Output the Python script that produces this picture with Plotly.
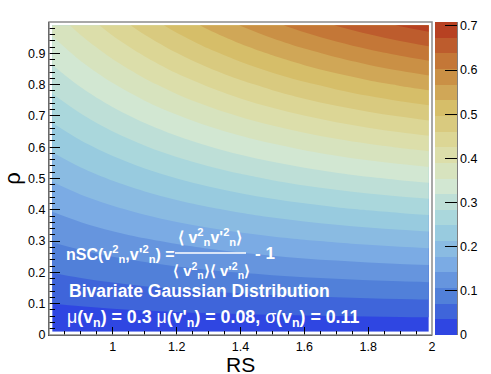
import numpy as np
import plotly.graph_objects as go

# RS (x) and rho (y) grid of the histogram, nSC values
rs = [0.81, 0.9, 1.0, 1.1, 1.2, 1.3, 1.4, 1.5, 1.6, 1.7, 1.8, 1.9, 1.99]
rho = [0.01, 0.1, 0.2, 0.3, 0.4, 0.5, 0.6, 0.7, 0.8, 0.9, 0.99]
nsc = [
    [0.0035, 0.0038, 0.0042, 0.0045, 0.0048, 0.0050, 0.0053, 0.0055, 0.0056, 0.0058, 0.0059, 0.0061, 0.0062],
    [0.0355, 0.0387, 0.0421, 0.0452, 0.0480, 0.0507, 0.0530, 0.0551, 0.0570, 0.0587, 0.0602, 0.0614, 0.0624],
    [0.0713, 0.0779, 0.0847, 0.0910, 0.0969, 0.1022, 0.1070, 0.1114, 0.1153, 0.1187, 0.1218, 0.1244, 0.1264],
    [0.1076, 0.1175, 0.1279, 0.1375, 0.1464, 0.1546, 0.1620, 0.1687, 0.1747, 0.1801, 0.1848, 0.1889, 0.1921],
    [0.1442, 0.1576, 0.1716, 0.1847, 0.1968, 0.2079, 0.2180, 0.2272, 0.2354, 0.2428, 0.2493, 0.2549, 0.2594],
    [0.1812, 0.1982, 0.2160, 0.2325, 0.2479, 0.2621, 0.2750, 0.2867, 0.2973, 0.3068, 0.3152, 0.3226, 0.3284],
    [0.2186, 0.2392, 0.2608, 0.2810, 0.2998, 0.3171, 0.3329, 0.3474, 0.3604, 0.3721, 0.3825, 0.3917, 0.3990],
    [0.2563, 0.2807, 0.3063, 0.3302, 0.3524, 0.3730, 0.3919, 0.4091, 0.4247, 0.4388, 0.4513, 0.4624, 0.4712],
    [0.2945, 0.3227, 0.3523, 0.3800, 0.4059, 0.4298, 0.4518, 0.4720, 0.4903, 0.5067, 0.5215, 0.5347, 0.5451],
    [0.3331, 0.3651, 0.3988, 0.4305, 0.4601, 0.4875, 0.5128, 0.5359, 0.5570, 0.5761, 0.5932, 0.6085, 0.6207],
    [0.3681, 0.4037, 0.4412, 0.4765, 0.5095, 0.5402, 0.5684, 0.5944, 0.6181, 0.6396, 0.6589, 0.6762, 0.6901],
]
z_top = 0.709  # top of the palette axis

x_ticks = [1, 1.2, 1.4, 1.6, 1.8, 2]
x_labels = ["1", "1.2", "1.4", "1.6", "1.8", "2"]
y_ticks = [0, 0.1, 0.2, 0.3, 0.4, 0.5, 0.6, 0.7, 0.8, 0.9]
y_labels = ["0", "0.1", "0.2", "0.3", "0.4", "0.5", "0.6", "0.7", "0.8", "0.9"]
z_ticks = [0, 0.1, 0.2, 0.3, 0.4, 0.5, 0.6, 0.7]
z_labels = ["0", "0.1", "0.2", "0.3", "0.4", "0.5", "0.6", "0.7"]

# ROOT kLightTemperature palette, one colour per contour band (20 bands)
pal_stops = [0.0, 0.125, 0.25, 0.375, 0.5, 0.625, 0.75, 0.875, 1.0]
pal_r = [31, 71, 123, 160, 210, 222, 214, 199, 183]
pal_g = [40, 117, 171, 211, 231, 220, 190, 132, 65]
pal_b = [234, 214, 228, 222, 210, 160, 105, 60, 34]
nband = 20
band_cols = []
for i in range(nband):
    p = (i + 0.99) / nband
    r, g, b = (int(round(np.interp(p, pal_stops, c))) for c in (pal_r, pal_g, pal_b))
    band_cols.append(f"rgb({r},{g},{b})")

contour_scale = [[i / (nband - 1), c] for i, c in enumerate(band_cols)]
bar_scale = []
for i, c in enumerate(band_cols):
    bar_scale += [[i / nband, c], [(i + 1) / nband, c]]

step = z_top / nband
FONT = "Liberation Sans, Arial, sans-serif"

contour = go.Contour(
    x=rs, y=rho, z=nsc,
    colorscale=contour_scale, showscale=False,
    autocontour=False,
    contours=dict(start=step, end=step * (nband - 1) + step / 10, size=step,
                  coloring="fill", showlines=False),
    line=dict(width=0),
)

# palette axis (discrete, 0 .. z_top)
palette = go.Scatter(
    x=[None], y=[None], mode="markers", hoverinfo="skip",
    marker=dict(
        color=[0], cmin=0, cmax=z_top, colorscale=bar_scale, showscale=True,
        colorbar=dict(
            x=1.008, xanchor="left", xpad=0, ypad=0,
            y=0.5, yanchor="middle", len=1.0, lenmode="fraction",
            thickness=22, outlinewidth=0,
            tickmode="array", tickvals=z_ticks, ticktext=z_labels,
            ticks="inside", ticklen=12, tickwidth=1, tickcolor="black",
            tickfont=dict(family=FONT, size=12.5, color="black"),
        ),
    ),
)

fig = go.Figure(data=[contour, palette])

# px -> data helpers for the text block (plot area 383 x 313 px)
def dx(px):
    return 0.8 + (px - 49) * 1.2 / 383

def dy(py):
    return (335 - py) / 313

white = dict(family=FONT, size=17, color="white")
frac = dict(family=FONT, size=16, color="white")
ann = [
    dict(x=dx(64), y=dy(254), xanchor="left", yanchor="middle",
         text="<b>nSC(v<sup>2</sup><sub>n</sub>,v'<sup>2</sup><sub>n</sub>) =</b>",
         font=dict(family=FONT, size=16, color="white")),
    dict(x=dx(210), y=dy(237), xanchor="center", yanchor="middle",
         text="<b>⟨ v<sup>2</sup><sub>n</sub>v'<sup>2</sup><sub>n</sub>⟩</b>", font=frac),
    dict(x=dx(211), y=dy(270), xanchor="center", yanchor="middle",
         text="<b>⟨ v<sup>2</sup><sub>n</sub>⟩⟨ v'<sup>2</sup><sub>n</sub>⟩</b>",
         font=dict(family=FONT, size=15, color="white")),
    dict(x=dx(253), y=dy(253), xanchor="left", yanchor="middle",
         text="<b>- 1</b>", font=white),
    dict(x=dx(67), y=dy(291), xanchor="left", yanchor="middle",
         text="<b>Bivariate Gaussian Distribution</b>", font=dict(family=FONT, size=17.5, color="white")),
    dict(x=dx(65), y=dy(318), xanchor="left", yanchor="middle",
         text="μ<b>(v<sub>n</sub>) = 0.3 </b>μ<b>(v'<sub>n</sub>) = 0.08, </b>σ<b>(v<sub>n</sub>) = 0.11</b>",
         font=dict(family=FONT, size=17.8, color="white")),
]
for a in ann:
    a.update(xref="x", yref="y", showarrow=False)

# x-axis title placed in the bottom margin
ann.append(dict(x=(240 - 49) / 383, y=(335 - 364) / 313, xref="paper", yref="paper",
                xanchor="center", yanchor="middle", showarrow=False, text="RS",
                font=dict(family=FONT, size=21, color="black")))

fig.update_layout(
    width=491, height=374,
    margin=dict(l=49, r=59, t=22, b=39, autoexpand=False),
    paper_bgcolor="white", plot_bgcolor="white",
    font=dict(family=FONT, size=12, color="black"),
    showlegend=False,
    annotations=ann,
    shapes=[
        # grey frame
        dict(type="rect", xref="paper", yref="paper", x0=0, x1=1, y0=0, y1=1,
             line=dict(color="#8c8c8c", width=1.5), layer="above"),
        # fraction bar
        dict(type="line", xref="x", yref="y", x0=dx(175), x1=dx(246), y0=dy(253), y1=dy(253),
             line=dict(color="white", width=1.5)),
        # right edge of palette axis
        dict(type="line", xref="paper", yref="paper", x0=(457 - 49) / 383, x1=(457 - 49) / 383,
             y0=0, y1=1, line=dict(color="black", width=1)),
    ],
)

fig.update_xaxes(
    range=[0.8, 2.0], tickmode="array", tickvals=x_ticks, ticktext=x_labels,
    ticks="inside", ticklen=8, tickwidth=1, tickcolor="black",
    minor=dict(dtick=0.05, tick0=0.8, ticks="inside", ticklen=4, tickcolor="black", showgrid=False),
    showline=True, linecolor="black", linewidth=1, mirror=False,
    showgrid=False, zeroline=False, automargin=False,
    tickfont=dict(family=FONT, size=12.5, color="black"),
)
fig.update_yaxes(
    range=[0, 1.0], tickmode="array", tickvals=y_ticks, ticktext=y_labels,
    ticks="inside", ticklen=11, tickwidth=1, tickcolor="black",
    minor=dict(dtick=0.02, tick0=0, ticks="inside", ticklen=5.5, tickcolor="black", showgrid=False),
    showline=True, linecolor="black", linewidth=1, mirror=False,
    showgrid=False, zeroline=False, automargin=False,
    tickfont=dict(family=FONT, size=12.5, color="black"),
    title=dict(text="ρ", font=dict(family=FONT, size=22, color="black"), standoff=4),
)

# the page's default body margin would shift the 491x374 figure
fig.write_html("out.html", config={"displayModeBar": False},
               post_script="document.body.style.margin='0px';")
